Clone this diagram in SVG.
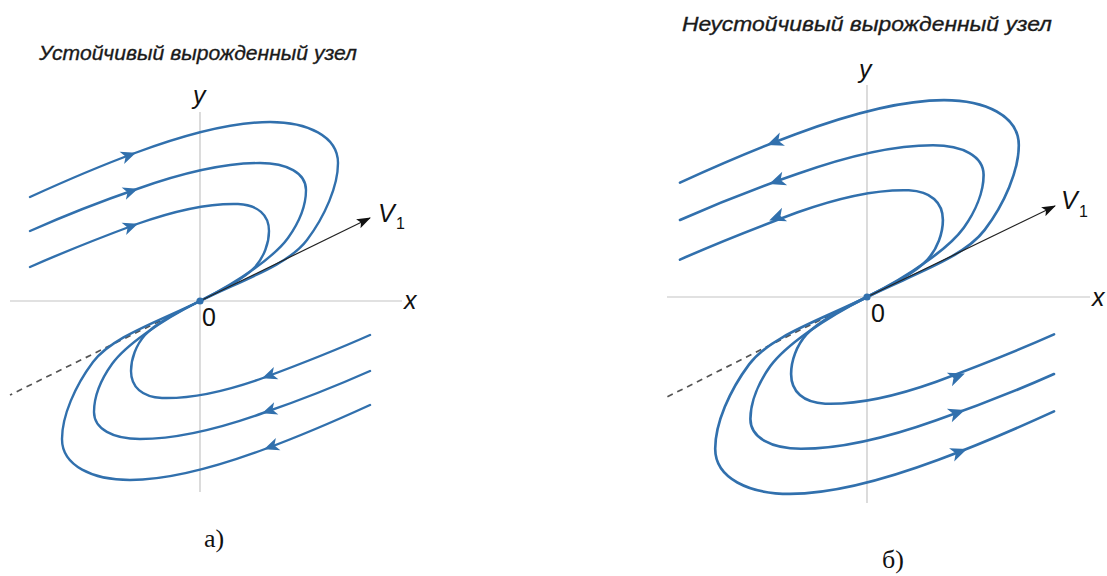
<svg xmlns="http://www.w3.org/2000/svg" xmlns:xlink="http://www.w3.org/1999/xlink" width="1107" height="576" viewBox="0 0 1107 576">
<style>
.traj{fill:none;stroke:#3170ad;stroke-width:2.4;stroke-linecap:round}
.axis{stroke:#c4c4c4;stroke-width:1.2;fill:none}
.dash{stroke:#555;stroke-width:1.7;stroke-dasharray:6 5;fill:none}
.vec{stroke:#222;stroke-width:1.2;fill:none}
.ahf{fill:#3170ad}
.title{font-family:"Liberation Sans",Arial,sans-serif;font-style:italic;font-size:21px;fill:#1a1a1a;stroke:#1a1a1a;stroke-width:0.35}
.lab{font-family:"Liberation Sans",Arial,sans-serif;font-style:italic;font-size:25px;fill:#111}
.num{font-family:"Liberation Sans",Arial,sans-serif;font-size:25px;fill:#111}
.sub{font-family:"Liberation Sans",Arial,sans-serif;font-size:16px;fill:#111}
.cap{font-family:"Liberation Serif","Times New Roman",serif;font-size:26px;fill:#111}
</style>
<defs>
<marker id="blk" viewBox="0 0 14 10" refX="13" refY="5" markerWidth="14" markerHeight="10" markerUnits="userSpaceOnUse" orient="auto">
<path d="M0,0 L14,5 L0,10 L3,5 Z" fill="#111"/>
</marker>
<path id="ah" class="ahf" d="M1,0 L-14,-6.5 L-10,0 L-14,6.5 Z"/>
<path id="c1" class="traj" d="M-170,-104 C-135,-120 -100,-135 -65,-148 C-30,-161 25,-179 70,-179 C107,-179 138,-165 138,-138 C138,-115 125,-85 107,-61 C88,-36 45,-22 0,0"/>
<path id="c2" class="traj" d="M-170,-70 C-134,-86 -98,-100 -63,-112 C-35,-122 15,-138 60,-138 C87,-138 106,-128 106,-111 C106,-95 98,-77 88,-63 C75,-45 40,-20 0,0"/>
<path id="c3" class="traj" d="M-170,-34 C-134,-50 -98,-64 -63,-77 C-35,-87 5,-98 38,-97 C58,-96 69,-86 69,-70 C69,-58 64,-44 55,-34 C44,-22 22,-11 0,0"/>
<g id="stableHalf">
<use xlink:href="#c1" href="#c1"/>
<use xlink:href="#c2" href="#c2"/>
<use xlink:href="#c3" href="#c3"/>
<use xlink:href="#ah" href="#ah" transform="translate(-65,-148) rotate(-20.4)"/>
<use xlink:href="#ah" href="#ah" transform="translate(-63,-112) rotate(-19)"/>
<use xlink:href="#ah" href="#ah" transform="translate(-63,-77) rotate(-20.4)"/>
</g>
<g id="unstableHalf">
<use xlink:href="#c1" href="#c1"/>
<use xlink:href="#c2" href="#c2"/>
<use xlink:href="#c3" href="#c3"/>
<use xlink:href="#ah" href="#ah" transform="translate(-90,-138.5) rotate(159)"/>
<use xlink:href="#ah" href="#ah" transform="translate(-88,-103) rotate(160)"/>
<use xlink:href="#ah" href="#ah" transform="translate(-88,-70) rotate(159)"/>
</g>
</defs>

<g id="panel-a">
<text class="title" x="39" y="60" textLength="318" lengthAdjust="spacingAndGlyphs">Устойчивый вырожденный узел</text>
<g id="axes-a">
<line class="axis" x1="200" y1="112" x2="200" y2="492"/>
<line class="axis" x1="10" y1="301" x2="402" y2="301"/>
<text class="lab" x="193" y="104">y</text>
<text class="lab" x="404" y="309">x</text>
<text class="num" x="202" y="326">0</text>
</g>
<line class="dash" x1="170" y1="316" x2="10" y2="395"/>
<g id="traj-a" transform="translate(200,301)">
<use xlink:href="#stableHalf" href="#stableHalf"/>
<use xlink:href="#stableHalf" href="#stableHalf" transform="rotate(180)"/>
</g>
<g id="v1-a">
<line class="vec" x1="200" y1="301" x2="370" y2="218" marker-end="url(#blk)"/>
<text class="lab" x="378" y="222">V</text>
<text class="sub" x="396" y="229">1</text>
</g>
<circle cx="200" cy="301" r="3.6" fill="#3170ad"/>
<text class="cap" x="204" y="547">а)</text>
</g>

<g id="panel-b">
<text class="title" x="682" y="31" textLength="370" lengthAdjust="spacingAndGlyphs">Неустойчивый вырожденный узел</text>
<g id="axes-b">
<line class="axis" x1="867" y1="85" x2="867" y2="503"/>
<line class="axis" x1="667" y1="297" x2="1090" y2="297"/>
<text class="lab" x="859" y="78">y</text>
<text class="lab" x="1092" y="306">x</text>
<text class="num" x="871" y="322">0</text>
</g>
<line class="dash" x1="830" y1="315" x2="665" y2="398"/>
<g id="traj-b" transform="translate(867,297) scale(1.1)">
<use xlink:href="#unstableHalf" href="#unstableHalf"/>
<use xlink:href="#unstableHalf" href="#unstableHalf" transform="rotate(180)"/>
</g>
<g id="v1-b">
<line class="vec" x1="867" y1="297" x2="1055" y2="206" marker-end="url(#blk)"/>
<text class="lab" x="1061" y="209">V</text>
<text class="sub" x="1079" y="217">1</text>
</g>
<circle cx="867" cy="297" r="3.6" fill="#3170ad"/>
<text class="cap" x="882" y="568">б)</text>
</g>
</svg>
